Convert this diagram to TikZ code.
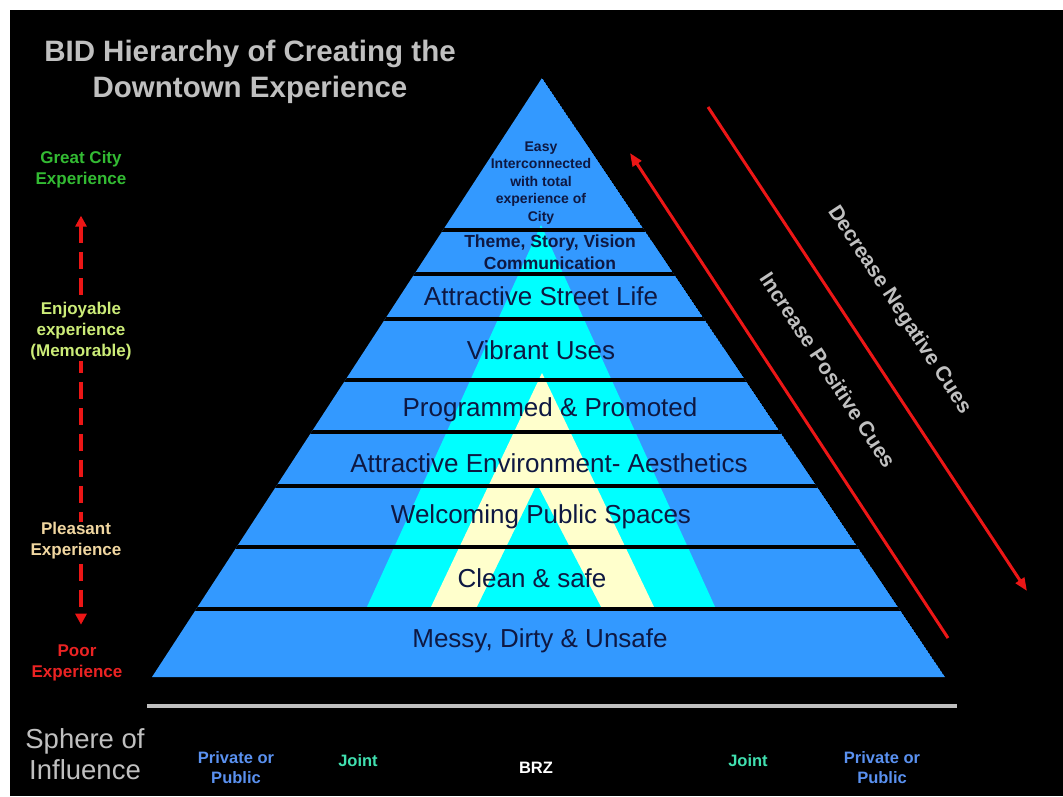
\documentclass[tikz,border=0pt]{standalone}
\usepackage{fontspec}
\setmainfont{Liberation Sans}
\usetikzlibrary{arrows.meta}
\definecolor{pyrblue}{RGB}{51,153,255}
\definecolor{pyrcyan}{RGB}{0,255,255}
\definecolor{pyrcream}{RGB}{255,255,204}
\definecolor{bandtext}{RGB}{14,24,66}
\definecolor{titlegray}{RGB}{192,192,192}
\definecolor{cuered}{RGB}{236,22,22}
\definecolor{greatgreen}{RGB}{51,187,51}
\definecolor{enjoygreen}{RGB}{204,236,120}
\definecolor{pleasanttan}{RGB}{240,214,160}
\definecolor{poorred}{RGB}{235,35,35}
\definecolor{privblue}{RGB}{90,145,240}
\definecolor{jointteal}{RGB}{64,224,176}

\begin{document}
\begin{tikzpicture}[x=1pt,y=-1pt,
    band/.style={text=bandtext,font=\fontsize{26}{31}\selectfont,inner sep=0pt},
    topband/.style={text=bandtext,font=\bfseries\fontsize{17.5}{22}\selectfont,align=center,inner sep=0pt},
    apexband/.style={text=bandtext,font=\bfseries\fontsize{14}{17.5}\selectfont,align=center,inner sep=0pt},
    level/.style={font=\bfseries\fontsize{17}{21}\selectfont,align=center,inner sep=1pt,fill=black},
    sphere/.style={font=\bfseries\fontsize{16.5}{20}\selectfont,align=center,inner sep=0pt},
    cuelabel/.style={text=titlegray,font=\bfseries\fontsize{21}{25}\selectfont,inner sep=0pt,rotate=-56.7},
    cuearrow/.style={draw=cuered,line width=3pt,-{Triangle[width=10pt,length=13pt]}},
    sep/.style={draw=black,line width=4pt}
]
\useasboundingbox (0,0) rectangle (1063,796);
\fill[white] (0,0) rectangle (1063,796);
\fill[black] (10,10) rectangle (1063,796);

\node[text=titlegray,font=\bfseries\fontsize{29.5}{36}\selectfont,align=center] (title) at (250,71.5)
    {BID Hierarchy of Creating the\\Downtown Experience};

\coordinate (apex) at (542,78);
\coordinate (base-l) at (152,677);
\coordinate (base-r) at (945,677);

\begin{scope}
    \clip (apex) -- (base-l) -- (base-r) -- cycle;
    \fill[pyrblue] (apex) -- (base-l) -- (base-r) -- cycle;
    \fill[pyrcyan] (541,225) -- (366,609) -- (716,609) -- cycle;
    \fill[pyrcream] (542,373) -- (430,609) -- (655,609) -- cycle;
    \fill[pyrcyan] (537,484) -- (476,609) -- (602,609) -- cycle;
    \path[sep]
        (100,230) -- (1000,230)
        (100,274) -- (1000,274)
        (100,319) -- (1000,319)
        (100,380) -- (1000,380)
        (100,432) -- (1000,432)
        (100,486) -- (1000,486)
        (100,547) -- (1000,547)
        (100,609) -- (1000,609);
\end{scope}

\node[apexband] (easy) at (541,183) {Easy\\Interconnected\\with total\\experience of\\City};
\node[topband] (theme) at (550,252) {Theme, Story, Vision\\Communication};
\node[band] (street) at (541,296) {Attractive Street Life};
\node[band] (vibrant) at (541,350) {Vibrant Uses};
\node[band] (programmed) at (550,410) {Programmed \& Promoted};
\node[band] (environment) at (549,463) {Attractive Environment- Aesthetics};
\node[band] (welcoming) at (541,517) {Welcoming Public Spaces};
\node[band] (clean) at (532,578) {Clean \& safe};
\node[band] (messy) at (540,641) {Messy, Dirty \& Unsafe};

\node[level,text=greatgreen] (great) at (81,170) {Great City\\Experience};
\node[level,text=poorred] (poor) at (77,663) {Poor\\Experience};
\draw[cuered,line width=4pt,dash pattern=on 17pt off 9pt,
    {Triangle[width=11pt,length=11pt]}-{Triangle[width=11pt,length=11pt]},
    shorten <=26pt,shorten >=19pt] (great.south -| 81,0) -- (poor.north -| 81,0);
\node[level,text=enjoygreen] (enjoyable) at (81,331) {Enjoyable\\experience\\(Memorable)};
\node[level,text=pleasanttan] (pleasant) at (76,541) {Pleasant\\Experience};

\coordinate (inc-tail) at (948,638);
\coordinate (inc-head) at (630,153);
\coordinate (dec-tail) at (708,107);
\coordinate (dec-head) at (1027,591);
\path
    (inc-tail) edge[cuearrow] (inc-head)
    (dec-tail) edge[cuearrow] (dec-head);
\node[cuelabel] (increase) at (828,370) {Increase Positive Cues};
\node[cuelabel] (decrease) at (899,310) {Decrease Negative Cues};

\coordinate (bar-l) at (147,706);
\coordinate (bar-r) at (957,706);
\draw[draw=titlegray,line width=4.5pt] (bar-l) -- (bar-r);

\node[text=titlegray,font=\fontsize{27.5}{31}\selectfont,align=center,inner sep=0pt] (sphere) at (85,754) {Sphere of\\Influence};
\node[sphere,text=privblue] (priv-l) at (236,768) {Private or\\Public};
\node[sphere,text=jointteal] (joint-l) at (358,761) {Joint};
\node[sphere,text=white] (brz) at (536,768) {BRZ};
\node[sphere,text=jointteal] (joint-r) at (748,761) {Joint};
\node[sphere,text=privblue] (priv-r) at (882,768) {Private or\\Public};
\end{tikzpicture}
\end{document}
